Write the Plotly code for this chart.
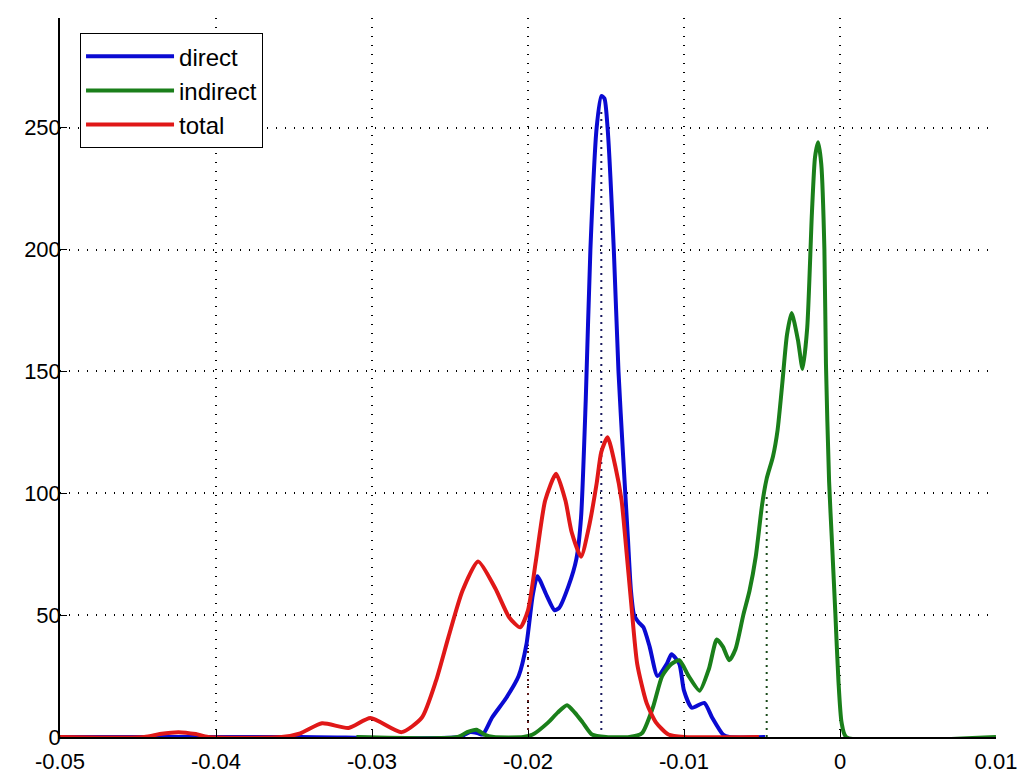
import plotly.graph_objects as go

# ---- data ----
direct_x = [-0.0500, -0.0346, -0.0244, -0.0237, -0.0232, -0.0229, -0.0223, -0.0214, -0.0206,
            -0.0201, -0.0197, -0.0194, -0.0188, -0.0183, -0.0180, -0.0174, -0.0169, -0.0166,
            -0.0163, -0.0160, -0.0156, -0.0153, -0.0151, -0.0149, -0.0145, -0.0142,
            -0.0139, -0.0136, -0.0134, -0.0132, -0.0129, -0.0126, -0.0122,
            -0.0117, -0.0111, -0.0108, -0.0103, -0.0100, -0.0095, -0.0087, -0.0082, -0.0075,
            -0.0071, -0.0048]
direct_y = [0, 0, 0, 2, 1.5, 1, 8, 16, 25, 38, 58, 66, 58, 52, 53, 62, 73, 90, 138, 200,
            250, 263, 262, 250, 200, 150, 115, 82, 60, 50, 47, 45, 37, 25, 30, 34, 30,
            19, 12, 14, 8, 1, 0, 0]

indirect_x = [-0.0310, -0.0245, -0.0239, -0.0233, -0.0228, -0.0222, -0.0203, -0.0197, -0.0187,
              -0.0181, -0.0175, -0.0170, -0.0165, -0.0159, -0.0150, -0.0135, -0.0127, -0.0120,
              -0.0114, -0.0108, -0.0103, -0.0097, -0.0090, -0.0084, -0.0079, -0.0075, -0.0071,
              -0.0067, -0.0062, -0.0058, -0.0054, -0.0050, -0.0047, -0.0043, -0.0040, -0.0037,
              -0.0034, -0.0031, -0.0027, -0.0024, -0.0021, -0.0018, -0.0016, -0.0014, -0.0012,
              -0.0010, -0.0009, -0.0007, -0.0005, -0.0003, -0.0001, 0.0001, 0.0004, 0.0100]
indirect_y = [0, 0, 2, 3, 1, 0, 0, 1, 6, 10, 13, 10, 6, 1, 0, 0, 1.5, 12, 25, 30, 31.5, 25, 19,
              28, 40, 37, 31.5, 36, 50, 60, 74, 95, 106, 115, 126, 145, 165, 174, 163, 151, 168,
              215, 238, 244, 235, 200, 153, 105, 78, 51, 23, 6, 0, 0]

total_x = [-0.0500, -0.0446, -0.0436, -0.0424, -0.0413, -0.0405, -0.0358, -0.0346, -0.0332,
           -0.0315, -0.0301, -0.0281, -0.0268, -0.0259, -0.0251, -0.0242, -0.0232, -0.0221,
           -0.0212, -0.0205, -0.0200, -0.0195, -0.0189, -0.0182, -0.0176, -0.0172,
           -0.0166, -0.0161, -0.0156, -0.0153, -0.0149, -0.0144, -0.0140, -0.0137, -0.0134,
           -0.0130, -0.0124, -0.0118, -0.0110, -0.0100, -0.0052]
total_y = [0, 0, 1.2, 2, 1.2, 0, 0, 1.5, 5.6, 3.7, 7.8, 2, 8, 23, 41, 60, 72, 61, 49, 45, 52,
           72, 97, 108, 97, 84, 74, 86, 104, 117, 123, 111, 97, 77, 56, 30, 14, 6, 1, 0, 0]

series_names = ["direct", "indirect", "total"]
series_colors = ["#0a0ad2", "#1a7f1a", "#e01818"]
marker_colors = ["#1a1a60", "#1a4a1a", "#601a1a"]

# dotted vertical markers (one per series)
marker_x = [-0.0153, -0.0047, -0.0200]
marker_top = [258, 99, 38]

x_ticks = [-0.05, -0.04, -0.03, -0.02, -0.01, 0.0, 0.01]
x_ticktext = ["-0.05", "-0.04", "-0.03", "-0.02", "-0.01", "0", "0.01"]
y_ticks = [0, 50, 100, 150, 200, 250]
y_ticktext = ["0", "50", "100", "150", "200", "250"]

FONT = "Liberation Sans, Arial, Helvetica, sans-serif"

fig = go.Figure()

for mx, mt, mc in zip(marker_x, marker_top, marker_colors):
    fig.add_trace(go.Scatter(x=[mx, mx], y=[0, mt], mode="lines",
                             line=dict(color=mc, width=2, dash="2px,5px"),
                             showlegend=False, hoverinfo="skip"))

for name, xs, ys, col in zip(series_names, [direct_x, indirect_x, total_x],
                             [direct_y, indirect_y, total_y], series_colors):
    fig.add_trace(go.Scatter(x=xs, y=ys, mode="lines", name=name, legendgroup=name,
                             line=dict(color=col, width=4, shape="spline", smoothing=0.6)))

fig.update_layout(
    width=1027, height=776,
    margin=dict(l=60, r=31, t=18, b=39),
    paper_bgcolor="white", plot_bgcolor="white",
    font=dict(family=FONT, size=22, color="black"),
    showlegend=True,
    legend=dict(x=0.0214, y=0.979, xanchor="left", yanchor="top",
                bgcolor="white", bordercolor="black", borderwidth=1,
                font=dict(family=FONT, size=24, color="black"),
                itemwidth=88, tracegroupgap=5, traceorder="normal"),
)

fig.update_xaxes(range=[-0.05, 0.01], tickvals=x_ticks, ticktext=x_ticktext,
                 automargin=False, ticklabelstandoff=4,
                 showline=True, linecolor="black", linewidth=1.5, mirror=False,
                 ticks="inside", ticklen=7, tickcolor="black",
                 showgrid=True, gridcolor="black", gridwidth=1.5, griddash="1px,8px",
                 zeroline=False)
fig.update_yaxes(range=[0, 295], tickvals=y_ticks, ticktext=y_ticktext,
                 automargin=False, ticklabelstandoff=-7,
                 showline=True, linecolor="black", linewidth=1.5, mirror=False,
                 ticks="inside", ticklen=7, tickcolor="black",
                 showgrid=True, gridcolor="black", gridwidth=1.5, griddash="1px,8px",
                 zeroline=False)

fig.write_html("out.html", config={"displayModeBar": False},
               post_script="document.body.style.margin='0';document.body.style.padding='0';document.body.style.overflow='hidden';")
